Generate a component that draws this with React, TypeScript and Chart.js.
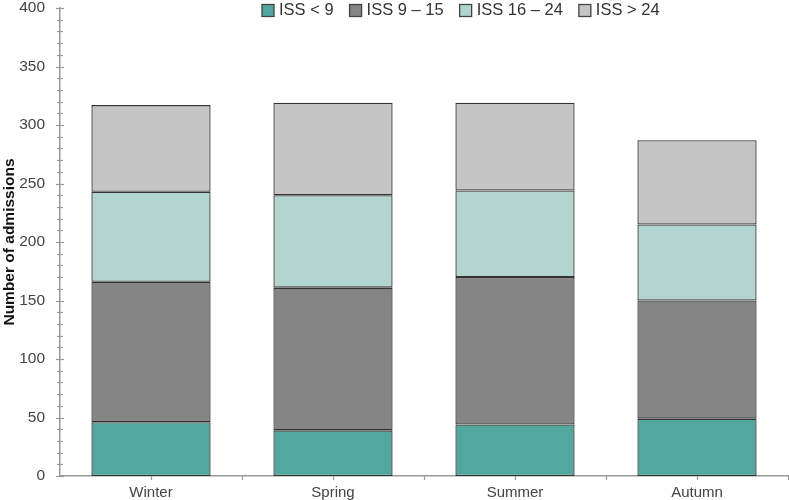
import React, { useEffect, useRef } from "react";
import { Chart, registerables } from "chart.js";

Chart.register(...registerables);

const categories = ["Winter", "Spring", "Summer", "Autumn"];
const seriesLabels = ["ISS < 9", "ISS 9 – 15", "ISS 16 – 24", "ISS > 24"];
const issLt9 = [46, 39, 44, 49];
const iss9to15 = [120, 122, 126, 101];
const iss16to24 = [77, 79, 74, 65];
const issGt24 = [74, 79, 75, 72];
const seriesColors = ["#52a89f", "#858585", "#b2d5cf", "#c5c5c5"];
const yMajorTicks = [0, 50, 100, 150, 200, 250, 300, 350, 400];

const FONT = '"Liberation Sans", Arial, sans-serif';
const AXIS_COLOR = "#9a9a9a";

const axisTicksPlugin = {
  id: "axisTicks",
  afterDraw(chart: any) {
    const ctx = chart.ctx;
    const x = chart.scales.x;
    const y = chart.scales.y;
    const area = chart.chartArea;
    ctx.save();
    ctx.strokeStyle = AXIS_COLOR;
    ctx.lineWidth = 1.2;
    for (let v = 0; v <= 400; v += 10) {
      const py = Math.round(y.getPixelForValue(v)) + 0.5;
      const major = yMajorTicks.includes(v);
      ctx.beginPath();
      ctx.moveTo(area.left - (major ? 4 : 3), py);
      ctx.lineTo(area.left + (major ? 4 : 3), py);
      ctx.stroke();
    }
    const n = categories.length;
    const half = (x.getPixelForValue(1) - x.getPixelForValue(0)) / 2;
    for (let i = 0; i < n; i++) {
      const c = x.getPixelForValue(i);
      for (const p of [c, c + half]) {
        const px = Math.round(p) + 0.5;
        ctx.beginPath();
        ctx.moveTo(px, area.bottom);
        ctx.lineTo(px, area.bottom + 4);
        ctx.stroke();
      }
    }
    ctx.restore();
  },
};

const legendPlugin = {
  id: "customLegend",
  afterDraw(chart: any) {
    const ctx = chart.ctx;
    ctx.save();
    ctx.font = `16.5px ${FONT}`;
    ctx.textBaseline = "middle";
    let cx = 262;
    const cy = 10.5;
    chart.data.datasets.forEach((ds: any) => {
      ctx.fillStyle = ds.backgroundColor;
      ctx.fillRect(cx, cy - 6, 12, 12);
      ctx.strokeStyle = "#444";
      ctx.lineWidth = 1.3;
      ctx.strokeRect(cx, cy - 6, 12, 12);
      ctx.fillStyle = "#333";
      ctx.fillText(ds.label, cx + 17, cy);
      cx += 17 + ctx.measureText(ds.label).width + 16;
    });
    ctx.restore();
  },
};

export default function App() {
  const ref = useRef<HTMLCanvasElement | null>(null);
  useEffect(() => {
    document.body.style.margin = "0";
    if (!ref.current) return;
    const values = [issLt9, iss9to15, iss16to24, issGt24];
    const chart = new Chart(ref.current, {
      type: "bar",
      data: {
        labels: categories,
        datasets: values.map((d, i) => ({
          label: seriesLabels[i],
          data: d,
          backgroundColor: seriesColors[i],
          borderColor: "#333333",
          borderWidth: 1.3,
          borderSkipped: false,
          barPercentage: 0.655,
          categoryPercentage: 1,
        })),
      },
      options: {
        animation: false,
        responsive: true,
        maintainAspectRatio: false,
        layout: { padding: { top: 8, right: 1, left: 0, bottom: 0 } },
        plugins: {
          legend: { display: false },
          tooltip: { enabled: false },
        },
        scales: {
          x: {
            stacked: true,
            grid: { display: false, drawTicks: false },
            border: { display: true, color: AXIS_COLOR, width: 1.5 },
            ticks: {
              color: "#444",
              font: { family: FONT, size: 15 },
              padding: 8,
            },
            afterFit: (s: any) => {
              s.height = 24;
              s.paddingLeft = 0;
              s.paddingRight = 0;
            },
          },
          y: {
            stacked: true,
            min: 0,
            max: 400,
            grid: { display: false, drawTicks: false },
            border: { display: true, color: AXIS_COLOR, width: 1.5 },
            ticks: {
              stepSize: 50,
              autoSkip: false,
              color: "#444",
              font: { family: FONT, size: 15.5 },
              padding: 15,
            },
            title: {
              display: true,
              text: "Number of admissions",
              color: "#111",
              font: { family: FONT, size: 15.5, weight: "bold" },
              padding: 0,
            },
            afterFit: (s: any) => {
              s.width = 60;
              s.paddingTop = 0;
              s.paddingBottom = 0;
            },
          },
        },
      },
      plugins: [axisTicksPlugin, legendPlugin],
    });
    return () => chart.destroy();
  }, []);
  return (
    <div style={{ width: 789, height: 500, position: "relative" }}>
      <canvas ref={ref} />
    </div>
  );
}
